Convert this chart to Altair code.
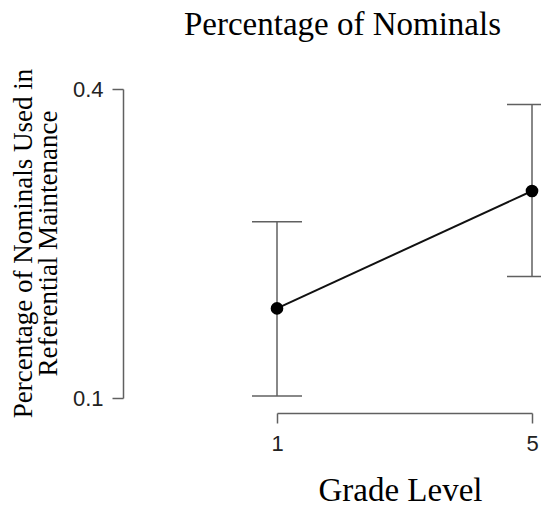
import altair as alt
import pandas as pd

grades = [1, 5]
means = [0.187, 0.301]
lower = [0.102, 0.218]
upper = [0.271, 0.385]

df = pd.DataFrame({"grade": grades, "mean": means, "lower": lower, "upper": upper})

xs = alt.Scale(domain=[1, 5], nice=False, zero=False)
ys = alt.Scale(domain=[0.1, 0.4], nice=False, zero=False)

GRAY = "#606060"

x_axis = alt.Axis(
    values=[1, 5], format="d", title="Grade Level",
    offset=15, tickSize=10, labelPadding=10,
    labelFont="Liberation Sans", labelFontSize=22, labelColor="#222",
    domainColor=GRAY, tickColor=GRAY, domainWidth=1.5, tickWidth=1.5,
    titleFont="Liberation Serif", titleFontSize=33, titleFontWeight="normal",
    titleColor="black", titleX=123, titleY=87, titleBaseline="alphabetic",
    titleAlign="center", labelFlush=False, grid=False)

y_axis = alt.Axis(
    values=[0.1, 0.4], format=".1f",
    title=["Percentage of Nominals Used in", "Referential Maintenance"],
    offset=154, tickSize=11, labelPadding=9,
    labelFont="Liberation Sans", labelFontSize=22, labelColor="#222",
    domainColor=GRAY, tickColor=GRAY, domainWidth=1.5, tickWidth=1.5,
    titleFont="Liberation Serif", titleFontSize=27, titleFontWeight="normal",
    titleColor="black", titleLineHeight=25, titleAngle=-90,
    titleX=-92, titleY=154, titleBaseline="alphabetic", titleAlign="center",
    labelFlush=False, grid=False)

base = alt.Chart(df)
X = alt.X("grade:Q", scale=xs, axis=x_axis)

rules = base.mark_rule(color=GRAY, strokeWidth=1.5).encode(
    x=X,
    y=alt.Y("lower:Q", scale=ys, axis=y_axis),
    y2="upper:Q",
)
cap_lo = base.mark_tick(color=GRAY, orient="horizontal", size=50, thickness=1.5, opacity=1).encode(
    x=X, y=alt.Y("lower:Q", scale=ys, axis=y_axis),
)
cap_hi = base.mark_tick(color=GRAY, orient="horizontal", size=50, thickness=1.5, opacity=1).encode(
    x=X, y=alt.Y("upper:Q", scale=ys, axis=y_axis),
)
line = base.mark_line(color="#111", strokeWidth=2).encode(
    x=X, y=alt.Y("mean:Q", scale=ys, axis=y_axis),
)
points = base.mark_point(filled=True, color="black", size=160, opacity=1).encode(
    x=X, y=alt.Y("mean:Q", scale=ys, axis=y_axis),
)

chart = alt.layer(rules, cap_lo, cap_hi, line, points).properties(
    width=255,
    height=309,
    autosize=alt.AutoSizeParams(type="none"),
    padding={"left": 269, "top": 81, "right": 9, "bottom": 106},
    title=alt.TitleParams(
        "Percentage of Nominals", font="Liberation Serif", fontSize=33,
        fontWeight="normal", color="black", anchor="middle", frame="group",
        dx=-62, dy=19, baseline="alphabetic", offset=19,
    ),
).configure_view(stroke=None)

chart.save("out.html", embed_options={"renderer": "svg", "actions": False})
